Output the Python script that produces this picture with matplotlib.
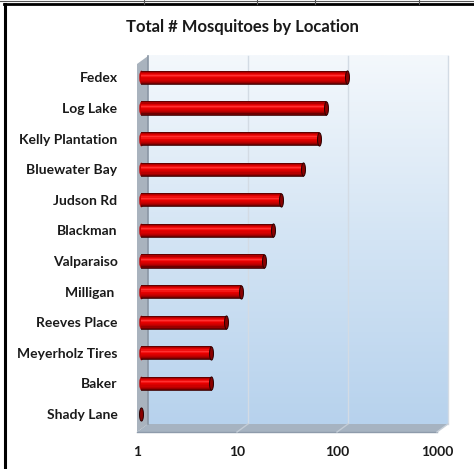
import numpy as np
import matplotlib
matplotlib.use("Agg")
import matplotlib.pyplot as plt
from matplotlib.path import Path
from matplotlib.patches import Polygon
from matplotlib.transforms import ScaledTranslation
from matplotlib.colors import LinearSegmentedColormap

# data (top to bottom as in the chart)
locations = ["Fedex", "Log Lake", "Kelly Plantation", "Bluewater Bay", "Judson Rd",
             "Blackman", "Valparaiso", "Milligan ", "Reeves Place", "Meyerholz Tires",
             "Baker", "Shady Lane"]
counts = [115, 71, 60, 42, 25, 21, 17, 10, 7, 5, 5, 1]
xticks = [1, 10, 100, 1000]

plt.rcParams['font.family'] = ['Lato', 'DejaVu Sans']

fig = plt.figure(figsize=(4.74, 4.69), dpi=100)
fig.patch.set_facecolor("white")

# front plane of the 3d box
ax = fig.add_axes([137/474, 1-432/469, 300/474, 368/469])
ax.set_xscale("log")
ax.set_xlim(1, 1000)
n = len(locations)
ypos = np.arange(n)[::-1]
ax.set_ylim(-0.59, 11.44)
ax.patch.set_visible(False)
for s in ax.spines.values():
    s.set_visible(False)

ox, oy = 11/300, 8/368   # depth offset in axes fraction
back = ax.transData + ScaledTranslation(11/100, 8/100, fig.dpi_scale_trans)
mid = ax.transData + ScaledTranslation(4/100, 0, fig.dpi_scale_trans)

# back wall gradient
grad = np.linspace(0, 1, 256).reshape(-1, 1)
cm_wall = LinearSegmentedColormap.from_list("wall", ["#b7d2ed", "#d3e4f4", "#f4f8fc"])
ax.imshow(grad, cmap=cm_wall, aspect="auto", origin="lower",
          extent=[0, 1, 0, 1], transform=ax.transAxes + ScaledTranslation(11/100, 8/100, fig.dpi_scale_trans),
          zorder=0, clip_on=False)

# floor and left wall
floor = Polygon([(0, 0), (1, 0), (1+ox, oy), (ox, oy)], closed=True, transform=ax.transAxes,
                facecolor="#a6b3c1", edgecolor="none", clip_on=False, zorder=1)
ax.add_patch(floor)
ax.plot([0, 1], [0, 0], transform=ax.transAxes, color="#8e9bab", lw=1, clip_on=False, zorder=1)
lwall = Polygon([(0, 0), (ox, oy), (ox, 1+oy), (0, 1)], closed=True, transform=ax.transAxes,
                facecolor="#a9b3be", edgecolor="none", clip_on=False, zorder=1)
ax.add_patch(lwall)
ax.plot([ox, ox], [oy, 1+oy], transform=ax.transAxes, color="#8a96a4", lw=1.2, clip_on=False, zorder=1)

# gridlines on back wall and floor
y0, y1 = ax.get_ylim()
for v in xticks[1:]:
    ax.plot([v, v], [y0, y1], transform=back, color="#d3dbe4", lw=1, zorder=0.5, clip_on=False)
for v in xticks[1:3]:
    f = np.log10(v) / 3
    ax.plot([f, f+ox], [0, oy], transform=ax.transAxes, color="#c3ccd6", lw=1, zorder=1.2, clip_on=False)
ax.plot([1, 1+ox], [0, oy], transform=ax.transAxes, color="#c8d0d9", lw=1, zorder=1.2, clip_on=False)

# cylinder bars
shades = ["#7a0000", "#b00000", "#dc0000", "#f01010", "#ff3030", "#f51515",
          "#e60000", "#da0000", "#cc0000", "#b80000", "#990000", "#6a0000"]
bh = 0.43
t = np.linspace(0, 2*np.pi, 60)
ell = Path(np.column_stack([0.3*np.cos(t), np.sin(t)]), closed=True)
msize = bh * 30.6 * 72 / 100
for y, v in zip(ypos, counts):
    if v > 1:
        ax.plot([1], [y], marker=ell, markersize=msize, color="#c80000", mec="#c80000",
                mew=0.3, transform=mid, zorder=2)
        k = len(shades)
        for j, c in enumerate(shades):
            yy = y + bh/2 - (j + 0.5) * bh / k
            ax.barh(yy, v - 1, left=1, height=bh/k + 0.005, color=c, lw=0,
                    transform=mid, zorder=3)
        ax.plot([1, v], [y + bh/2, y + bh/2], color="#5a0000", lw=0.5, transform=mid, zorder=3.1)
        ax.plot([1, v], [y - bh/2, y - bh/2], color="#400000", lw=0.6, transform=mid, zorder=3.1)
    ax.plot([v], [y], marker=ell, markersize=msize, color="#8a0000", mec="#2a0000",
            mew=0.7, transform=mid, zorder=4)

ax.set_yticks(ypos)
ax.set_yticklabels(locations, fontsize=10, fontweight="bold", color="#1a1a1a")
ax.set_xticks(xticks)
ax.set_xticklabels([str(v) for v in xticks], fontsize=10, fontweight="bold", color="#1a1a1a")
ax.minorticks_off()
ax.tick_params(axis="y", length=0, pad=14)
ax.tick_params(axis="x", length=0, pad=10)

fig.text(242/474, 1-27/469, "Total # Mosquitoes by Location", ha="center", va="center",
         fontsize=12, fontweight="bold", color="#1a1a1a")

# chart border and spreadsheet grid above
fig.add_artist(plt.Line2D([5/474, 5/474], [0, 1-4/469], color="black", lw=2.2))
fig.add_artist(plt.Line2D([4/474, 1], [1-4/469, 1-4/469], color="black", lw=2))
fig.add_artist(plt.Line2D([0, 1], [1-1/469, 1-1/469], color="#555555", lw=0.8))
for xv in [144, 257, 315, 419]:
    fig.add_artist(plt.Line2D([xv/474, xv/474], [1-4/469, 1], color="#555555", lw=0.8))

fig.savefig("out.png", dpi=100)
